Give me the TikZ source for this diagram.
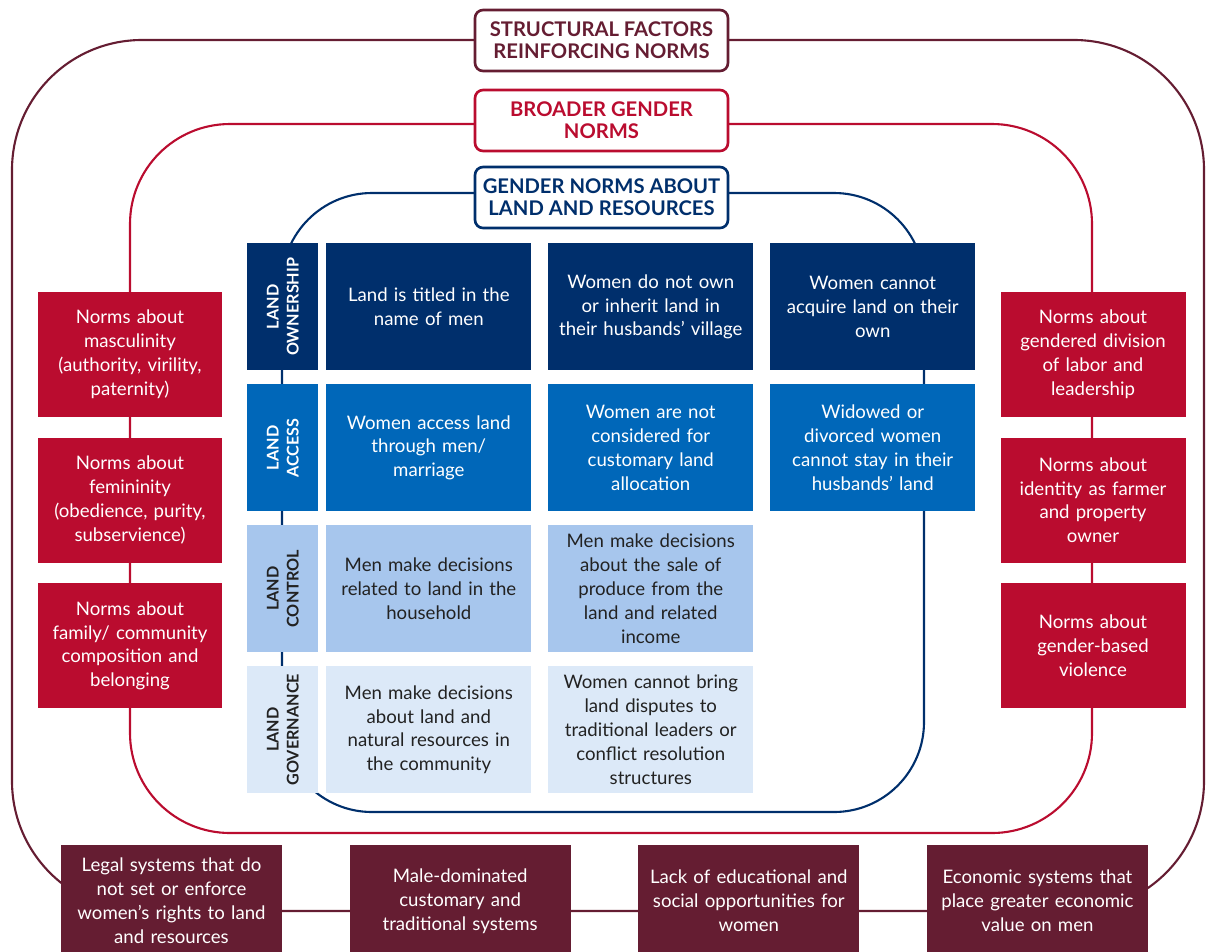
\documentclass[tikz,border=0pt]{standalone}
\usepackage{fontspec}
\setmainfont{Lato}
\usetikzlibrary{positioning}
\definecolor{maroonc}{HTML}{651D32}
\definecolor{redc}{HTML}{BA0C2F}
\definecolor{navyc}{HTML}{002F6C}
\definecolor{midblue}{HTML}{0067B9}
\definecolor{lightblue}{HTML}{A7C6ED}
\definecolor{paleblue}{HTML}{DCE9F8}
\definecolor{inkc}{HTML}{222222}

\begin{document}
\begin{tikzpicture}[x=0.02cm,y=-0.02cm,
cell/.style={rectangle,anchor=center,minimum width=4.1cm,minimum height=2.54cm,text width=3.9cm,align=center,inner sep=0pt,font=\fontsize{10.6}{13.6}\selectfont},
own/.style={cell,fill=navyc,text=white},
acc/.style={cell,fill=midblue,text=white},
ctrl/.style={cell,fill=lightblue,text=inkc},
gov/.style={cell,fill=paleblue,text=inkc},
lbl/.style={rotate=90,anchor=center,minimum width=2.54cm,minimum height=1.42cm,inner sep=0pt,align=center,font=\bfseries\fontsize{9.2}{11.5}\selectfont},
normbox/.style={rectangle,fill=redc,text=white,minimum width=3.7cm,minimum height=2.5cm,text width=3.5cm,align=center,inner sep=0pt,font=\fontsize{10.6}{13.6}\selectfont},
sysbox/.style={rectangle,fill=maroonc,text=white,minimum width=4.42cm,minimum height=2.24cm,text width=4.2cm,align=center,inner sep=0pt,font=\fontsize{10.6}{13.6}\selectfont},
title/.style={rectangle,rounded corners=0.16cm,draw,line width=1.5pt,fill=white,minimum width=5.06cm,minimum height=1.22cm,inner sep=0pt,align=center,font=\bfseries\fontsize{11.5}{12.5}\selectfont}]
\useasboundingbox (0,0) rectangle (1206,951);
\clip (0,0) rectangle (1206,951);

% the three loops
\draw[maroonc,line width=1.2pt,rounded corners=2.6cm] (12,40) rectangle (1204,911);
\draw[redc,line width=1.2pt,rounded corners=2cm] (130,124) rectangle (1092,833);
\draw[navyc,line width=1.2pt,rounded corners=1.8cm] (282,193) rectangle (924,812);

\matrix (grid) [row sep=0.28cm,column sep=0.34cm,inner sep=0pt,anchor=north west] at (247,243) {
\node (lown) [lbl,fill=navyc,text=white] {LAND\\OWNERSHIP};
&[-0.18cm]
\node (own1) [own] {Land is titled in the\\name of men};
&
\node (own2) [own] {Women do not own\\or inherit land in\\their husbands’ village};
&
\node (own3) [own] {Women cannot\\acquire land on their\\own};
\\
\node (lacc) [lbl,fill=midblue,text=white] {LAND\\ACCESS};
&[-0.18cm]
\node (acc1) [acc] {Women access land\\through men/\\marriage};
&
\node (acc2) [acc] {Women are not\\considered for\\customary land\\allocation};
&
\node (acc3) [acc] {Widowed or\\divorced women\\cannot stay in their\\husbands’ land};
\\
\node (lctrl) [lbl,fill=lightblue,text=inkc] {LAND\\CONTROL};
&[-0.18cm]
\node (ctrl1) [ctrl] {Men make decisions\\related to land in the\\household};
&
\node (ctrl2) [ctrl] {Men make decisions\\about the sale of\\produce from the\\land and related\\income};
&
\\
\node (lgov) [lbl,fill=paleblue,text=inkc] {LAND\\GOVERNANCE};
&[-0.18cm]
\node (gov1) [gov] {Men make decisions\\about land and\\natural resources in\\the community};
&
\node (gov2) [gov] {Women cannot bring\\land disputes to\\traditional leaders or\\conflict resolution\\structures};
&
\\
};

% broader norms, left and right
\node (masc) [normbox] at (130,354.5) {Norms about\\masculinity\\(authority, virility,\\paternity)};
\node (femi) [normbox,below=0.4cm of masc] {Norms about\\femininity\\(obedience, purity,\\subservience)};
\node (family) [normbox,below=0.4cm of femi] {Norms about\\family/ community\\composition and\\belonging};
\node (labor) [normbox] at (1093,354.5) {Norms about\\gendered division\\of labor and\\leadership};
\node (ident) [normbox,below=0.4cm of labor] {Norms about\\identity as farmer\\and property\\owner};
\node (gbv) [normbox,below=0.4cm of ident] {Norms about\\gender-based\\violence};

% structural factors
\node (legal) [sysbox] at (171.5,901) {Legal systems that do\\not set or enforce\\women’s rights to land\\and resources};
\node (custom) [sysbox,right=1.34cm of legal] {Male-dominated\\customary and\\traditional systems};
\node (educ) [sysbox,right=1.34cm of custom] {Lack of educational and\\social opportunities for\\women};
\node (econ) [sysbox,right=1.34cm of educ] {Economic systems that\\place greater economic\\value on men};

\node (struct) [title,draw=maroonc,text=maroonc] at (601.5,40.5) {STRUCTURAL FACTORS\\REINFORCING NORMS};
\node (broad) [title,draw=redc,text=redc] at (601.5,120.5) {BROADER GENDER\\NORMS};
\node (landnorm) [title,draw=navyc,text=navyc] at (601.5,197.5) {GENDER NORMS ABOUT\\LAND AND RESOURCES};
\end{tikzpicture}
\end{document}
